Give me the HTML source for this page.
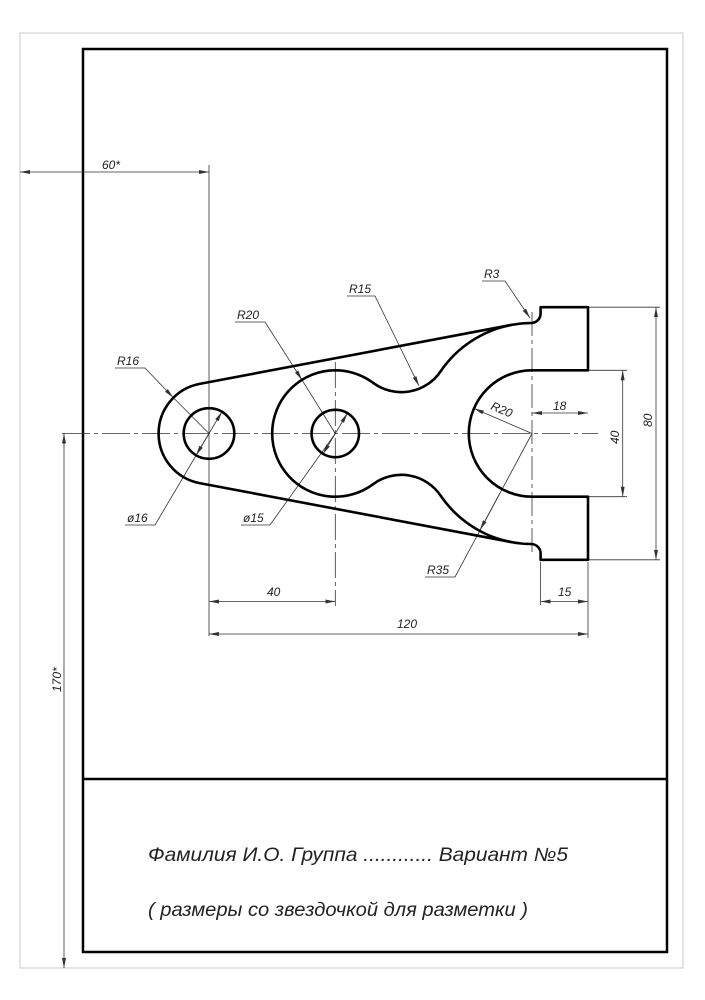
<!DOCTYPE html>
<html><head><meta charset="utf-8"><style>
html,body{margin:0;padding:0;background:#fff;}
svg{display:block;}
text{font-family:"Liberation Sans","DejaVu Sans",sans-serif;font-style:italic;fill:#222;}
</style></head><body>
<svg width="705" height="1000" viewBox="0 0 705 1000" xmlns="http://www.w3.org/2000/svg">
<defs>
<marker id="a" viewBox="0 0 10 4" refX="10" refY="2" markerWidth="10" markerHeight="4" markerUnits="userSpaceOnUse" orient="auto-start-reverse">
<path d="M0,0 L10,2 L0,4 Z" fill="#333"/></marker>
</defs>
<rect x="20" y="33" width="663" height="935" fill="none" stroke="#c8c8c8" stroke-width="1"/>
<rect x="83" y="49" width="584" height="903" fill="none" stroke="#000" stroke-width="2.5"/>
<line x1="83" y1="779" x2="667" y2="779" stroke="#000" stroke-width="2.5"/>

<g stroke="#333" stroke-width="0.8" fill="none">
<line x1="62" y1="433.5" x2="598" y2="433.5" stroke-dasharray="28,4,4,4"/>
<line x1="209" y1="165" x2="209" y2="636"/>
<line x1="335.3" y1="362" x2="335.3" y2="606" stroke-dasharray="26,4,4,4"/>
<line x1="532" y1="312" x2="532" y2="556" stroke-dasharray="24,4,4,4"/>
<line x1="20" y1="172" x2="209" y2="172" marker-start="url(#a)" marker-end="url(#a)"/>
<line x1="64" y1="433.5" x2="64" y2="968" marker-start="url(#a)" marker-end="url(#a)"/>
<line x1="209" y1="601.5" x2="335.3" y2="601.5" marker-start="url(#a)" marker-end="url(#a)"/>
<line x1="209" y1="634" x2="588" y2="634" marker-start="url(#a)" marker-end="url(#a)"/>
<line x1="588" y1="562" x2="588" y2="638"/>
<line x1="540.6" y1="562" x2="540.6" y2="605"/>
<line x1="540.6" y1="601.5" x2="588" y2="601.5" marker-start="url(#a)" marker-end="url(#a)"/>
<line x1="532" y1="413" x2="588" y2="413" marker-start="url(#a)" marker-end="url(#a)"/>
<line x1="589" y1="370.3" x2="627" y2="370.3"/>
<line x1="589" y1="496.7" x2="627" y2="496.7"/>
<line x1="622.7" y1="370.3" x2="622.7" y2="496.7" marker-start="url(#a)" marker-end="url(#a)"/>
<line x1="589" y1="307.2" x2="660" y2="307.2"/>
<line x1="589" y1="559.8" x2="660" y2="559.8"/>
<line x1="656" y1="307.2" x2="656" y2="559.8" marker-start="url(#a)" marker-end="url(#a)"/>
<polyline points="115,368 145,368 173.3,397.6" marker-end="url(#a)"/>
<line x1="173.3" y1="397.6" x2="209" y2="433.5"/>
<polyline points="125,525 155,525 209,433.5 222,411.7" marker-end="url(#a)"/>
<line x1="209" y1="433.5" x2="196" y2="455.3" marker-end="url(#a)"/>
<polyline points="235,322 265,322 302,380" marker-end="url(#a)"/>
<line x1="302" y1="380" x2="335.3" y2="433.5"/>
<polyline points="241,525 270,525 335.3,433.5 347.4,413.3" marker-end="url(#a)"/>
<line x1="335.3" y1="433.5" x2="323" y2="454" marker-end="url(#a)"/>
<polyline points="347,296 375,296 419,386" marker-end="url(#a)"/>
<polyline points="482,281 505,281 530,318" marker-end="url(#a)"/>
<line x1="532" y1="433.5" x2="474" y2="408.5" marker-end="url(#a)"/>
<polyline points="425,577 455,577 532,433.5"/>
<line x1="500" y1="493" x2="480" y2="530" marker-end="url(#a)"/>
</g>

<g stroke="#000" stroke-width="2.6" fill="none" stroke-linejoin="round">
<path d="M199.6,383.9 L511.5,324.9 A110.5,110.5 0 0 1 531.2,323.0 A9.5,9.5 0 0 0 540.6,313.5 L540.6,307.2 L588,307.2 L588,370.3 L532,370.3 A63.2,63.2 0 0 0 532,496.7 L588,496.7 L588,559.8 L540.6,559.8 L540.6,553.5 A9.5,9.5 0 0 0 531.2,544.0 A110.5,110.5 0 0 1 511.5,542.1 L199.6,483.1 A50.5,50.5 0 0 1 199.6,383.9 Z"/>
<path d="M511.5,324.9 A110.5,110.5 0 0 0 440.6,371.4 A47.4,47.4 0 0 1 373.1,382.8 A63.2,63.2 0 1 0 373.1,484.2 A47.4,47.4 0 0 1 440.6,495.6 A110.5,110.5 0 0 0 511.5,542.1"/>
<circle cx="209" cy="433.5" r="25.3"/>
<circle cx="335.3" cy="433.5" r="23.7"/>
</g>

<g font-size="12">
<text x="102" y="169">60*</text>
<text x="0" y="0" transform="translate(61,692) rotate(-90)">170*</text>
<text x="117" y="365">R16</text>
<text x="127" y="522">ø16</text>
<text x="237" y="319">R20</text>
<text x="243" y="522">ø15</text>
<text x="349" y="293">R15</text>
<text x="484" y="278">R3</text>
<text x="0" y="0" transform="translate(490,409) rotate(23)">R20</text>
<text x="427" y="574">R35</text>
<text x="267" y="596">40</text>
<text x="397" y="628">120</text>
<text x="553" y="410">18</text>
<text x="558" y="596">15</text>
<text x="0" y="0" transform="translate(619,444) rotate(-90)">40</text>
<text x="0" y="0" transform="translate(652,427) rotate(-90)">80</text>
</g>
<g font-size="19">
<text x="148" y="861" textLength="420" lengthAdjust="spacingAndGlyphs">Фамилия И.О.  Группа  ............  Вариант  №5</text>
<text x="148" y="916" textLength="380" lengthAdjust="spacingAndGlyphs">( размеры со звездочкой для разметки )</text>
</g>
</svg>
</body></html>
